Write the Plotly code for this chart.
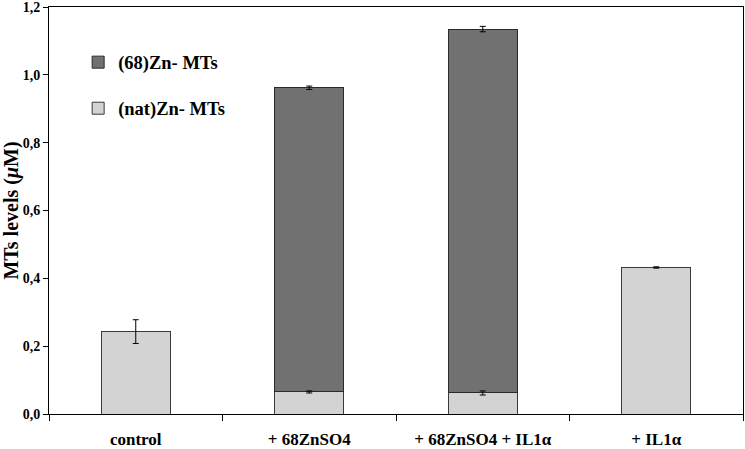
import plotly.graph_objects as go

# data
categories = ["control", "+ 68ZnSO4", "+ 68ZnSO4 + IL1α", "+ IL1α"]
nat_zn = [0.243, 0.065, 0.062, 0.432]
nat_err = [0.035, 0.003, 0.006, 0.002]
zn68 = [None, 0.897, 1.073, None]
zn68_err = [None, 0.005, 0.008, None]
y_ticks = [0.0, 0.2, 0.4, 0.6, 0.8, 1.0, 1.2]

FONT = "Liberation Serif"
totals = [None if z is None else n + z for n, z in zip(nat_zn, zn68)]

fig = go.Figure()

fig.add_trace(go.Bar(
    x=categories, y=nat_zn, name="<b>(nat)Zn- MTs</b>",
    marker=dict(color="#d3d3d3", line=dict(color="#3a3a3a", width=1)),
    width=0.4, legendgroup="nat", legendrank=2,
))
fig.add_trace(go.Bar(
    x=categories, y=zn68, name="<b>(68)Zn- MTs</b>",
    marker=dict(color="#717171", line=dict(color="#2a2a2a", width=1)),
    width=0.4, legendgroup="68", legendrank=1,
))

# error bars drawn on top of the stacked bars
fig.add_trace(go.Scatter(
    x=categories, y=nat_zn, mode="markers", marker=dict(size=0.1, color="black"),
    error_y=dict(type="data", array=nat_err, color="black", thickness=1, width=3),
    showlegend=False, hoverinfo="skip",
))
fig.add_trace(go.Scatter(
    x=categories, y=totals, mode="markers", marker=dict(size=0.1, color="black"),
    error_y=dict(type="data", array=[0 if e is None else e for e in zn68_err],
                 color="black", thickness=1, width=3),
    showlegend=False, hoverinfo="skip",
))

fig.update_layout(
    width=745, height=449,
    margin=dict(l=49, r=2, t=7, b=35),
    barmode="stack",
    plot_bgcolor="white", paper_bgcolor="white",
    font=dict(family=FONT, color="black"),
    showlegend=True,
    legend=dict(
        x=0.042, y=0.91, xanchor="left", yanchor="top",
        traceorder="grouped", tracegroupgap=19, itemwidth=30,
        font=dict(family=FONT, size=18.5, color="black"),
        bgcolor="rgba(0,0,0,0)",
    ),
)

fig.update_xaxes(
    type="category", showline=True, linecolor="black", linewidth=1,
    mirror=True, ticks="outside", tickson="boundaries", ticklen=6,
    tickcolor="black", ticklabelstandoff=10,
    tickfont=dict(family=FONT, size=17, color="black"),
    ticktext=["<b>%s</b>" % c for c in categories], tickvals=categories,
    showgrid=False, automargin=False,
)
fig.update_yaxes(
    range=[0, 1.2001], tickvals=y_ticks,
    ticktext=["<b>%s</b>" % ("%.1f" % v).replace(".", ",") for v in y_ticks],
    showline=True, linecolor="black", linewidth=1, mirror=True,
    ticks="outside", ticklen=5, tickcolor="black", ticklabeloverflow="allow",
    tickfont=dict(family=FONT, size=14, color="black"),
    showgrid=False, zeroline=False, automargin=False,
    title=dict(text="<b>MTs levels (<i>μ</i>M)</b>",
               font=dict(family=FONT, size=20, color="black"), standoff=4),
)

# drop the browser's default body margin so the figure fills the window
fig.write_html("out.html", config={"displayModeBar": False},
               post_script="document.body.style.margin='0';")
